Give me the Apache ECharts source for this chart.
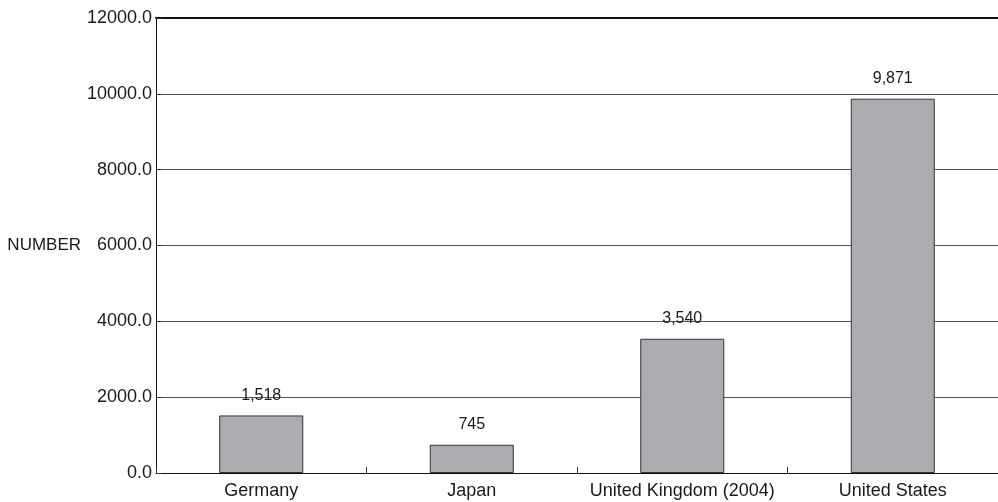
<!DOCTYPE html>
<html>
<head>
<meta charset="utf-8">
<script src="https://cdn.jsdelivr.net/npm/echarts@6/dist/echarts.min.js"></script>
<style>html,body{margin:0;padding:0;background:#fff}#c{width:998px;height:502px}</style>
</head>
<body>
<div id="c"></div>
<script>
const categories = ['Germany', 'Japan', 'United Kingdom (2004)', 'United States'];
const values = [1518, 745, 3540, 9871];
const yTicks = { min: 0, max: 12000, interval: 2000 };
const yName = 'NUMBER';

const font = 'Liberation Sans, Arial, sans-serif';
const chart = echarts.init(document.getElementById('c'), null, { renderer: 'canvas' });
chart.setOption({
  animation: false,
  grid: { left: 156, right: -4, top: 18, bottom: 29, containLabel: false },
  xAxis: [{
    type: 'category',
    data: categories,
    axisLine: { lineStyle: { color: '#111', width: 1 } },
    axisTick: { show: true, inside: true, length: 6, interval: 0, lineStyle: { color: '#333' } },
    axisLabel: { color: '#1a1a1a', fontFamily: font, fontSize: 18, margin: 9, interval: 0 },
    splitLine: { show: false }
  }, {
    type: 'category',
    position: 'top',
    data: categories,
    axisLine: { lineStyle: { color: '#111', width: 2 } },
    axisTick: { show: false },
    axisLabel: { show: false }
  }],
  yAxis: {
    type: 'value',
    min: yTicks.min, max: yTicks.max, interval: yTicks.interval,
    name: yName,
    nameLocation: 'middle',
    nameRotate: 0,
    nameGap: 74,
    nameTextStyle: { color: '#1a1a1a', fontFamily: font, fontSize: 17, align: 'right' },
    axisLine: { show: true, lineStyle: { color: '#111' } },
    axisTick: { show: true, inside: true, length: 6, lineStyle: { color: '#333' } },
    axisLabel: { color: '#1a1a1a', fontFamily: font, fontSize: 18, margin: 4,
      formatter: v => v.toFixed(1) },
    splitLine: { show: true, lineStyle: { color: '#555', width: 1 } }
  },
  series: [{
    type: 'bar',
    data: values,
    barWidth: 84,
    itemStyle: { color: '#abacaf', borderColor: '#333', borderWidth: 1 },
    label: {
      show: true, position: 'top', distance: 12,
      color: '#1a1a1a', fontFamily: font, fontSize: 16,
      formatter: p => p.value.toLocaleString('en-US')
    }
  }]
});
</script>
</body>
</html>
